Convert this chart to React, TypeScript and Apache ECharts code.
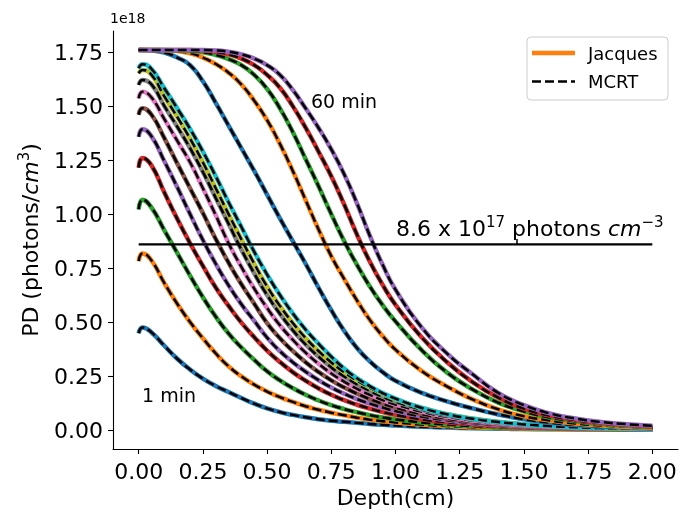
import React, { useEffect, useRef } from "react";
import * as echarts from "echarts";

// Depth grid (cm) shared by every curve
const DEPTH = [0, 0.015, 0.05, 0.1, 0.15, 0.2, 0.25, 0.3, 0.35, 0.4, 0.45, 0.5, 0.55, 0.6, 0.65, 0.7, 0.75, 0.8, 0.85, 0.9, 0.95, 1.0, 1.1, 1.2, 1.3, 1.4, 1.5, 1.6, 1.7, 1.8, 1.9, 2.0];

// Exposure times (min) of each curve
const MINUTES = [1, 2, 3, 4, 5, 6, 7, 8, 9, 10, 20, 30, 40, 50, 60];

// Photon density, in units of 1e18 photons/cm^3
const PD_01 = [0.448, 0.475, 0.452, 0.39, 0.33, 0.28, 0.238, 0.204, 0.176, 0.148, 0.122, 0.1, 0.083, 0.07, 0.059, 0.05, 0.043, 0.038, 0.033, 0.028, 0.024, 0.021, 0.015, 0.011, 0.008, 0.006, 0.0045, 0.0034, 0.0026, 0.002, 0.0015, 0.0012];
const PD_02 = [0.782, 0.818, 0.785, 0.68, 0.585, 0.5, 0.425, 0.355, 0.295, 0.248, 0.21, 0.178, 0.152, 0.13, 0.11, 0.094, 0.08, 0.068, 0.057, 0.048, 0.041, 0.035, 0.025, 0.018, 0.013, 0.009, 0.0065, 0.0047, 0.0034, 0.0025, 0.0018, 0.0013];
const PD_03 = [1.022, 1.067, 1.03, 0.925, 0.82, 0.715, 0.615, 0.525, 0.447, 0.382, 0.325, 0.272, 0.23, 0.194, 0.163, 0.137, 0.115, 0.097, 0.082, 0.069, 0.058, 0.049, 0.035, 0.025, 0.018, 0.013, 0.009, 0.0065, 0.0047, 0.0034, 0.0024, 0.0017];
const PD_04 = [1.215, 1.26, 1.225, 1.1, 0.978, 0.865, 0.76, 0.66, 0.575, 0.497, 0.43, 0.368, 0.315, 0.268, 0.228, 0.193, 0.163, 0.138, 0.117, 0.099, 0.083, 0.07, 0.05, 0.036, 0.026, 0.018, 0.013, 0.0095, 0.0068, 0.0049, 0.0035, 0.0025];
const PD_05 = [1.358, 1.393, 1.36, 1.245, 1.125, 1.0, 0.88, 0.77, 0.67, 0.582, 0.505, 0.428, 0.365, 0.314, 0.27, 0.231, 0.197, 0.168, 0.143, 0.122, 0.104, 0.088, 0.063, 0.045, 0.032, 0.023, 0.017, 0.012, 0.0086, 0.0062, 0.0045, 0.0032];
const PD_06 = [1.46, 1.49, 1.46, 1.352, 1.235, 1.12, 1.005, 0.885, 0.775, 0.675, 0.585, 0.495, 0.425, 0.366, 0.314, 0.269, 0.23, 0.197, 0.168, 0.143, 0.122, 0.104, 0.074, 0.053, 0.038, 0.027, 0.02, 0.014, 0.01, 0.0073, 0.0053, 0.0038];
const PD_07 = [1.536, 1.567, 1.54, 1.44, 1.34, 1.24, 1.12, 0.995, 0.865, 0.755, 0.655, 0.565, 0.485, 0.418, 0.358, 0.307, 0.262, 0.224, 0.191, 0.163, 0.139, 0.118, 0.085, 0.061, 0.044, 0.031, 0.022, 0.016, 0.0115, 0.0083, 0.006, 0.0043];
const PD_08 = [1.598, 1.621, 1.6, 1.5, 1.405, 1.305, 1.195, 1.075, 0.955, 0.835, 0.725, 0.625, 0.538, 0.462, 0.396, 0.34, 0.29, 0.248, 0.212, 0.181, 0.154, 0.131, 0.095, 0.068, 0.049, 0.035, 0.025, 0.018, 0.013, 0.0092, 0.0066, 0.0048];
const PD_09 = [1.652, 1.667, 1.645, 1.545, 1.45, 1.35, 1.24, 1.12, 1.0, 0.883, 0.77, 0.665, 0.575, 0.496, 0.426, 0.366, 0.313, 0.268, 0.229, 0.196, 0.167, 0.142, 0.103, 0.074, 0.053, 0.038, 0.027, 0.019, 0.014, 0.01, 0.0072, 0.0052];
const PD_10 = [1.675, 1.694, 1.672, 1.583, 1.49, 1.395, 1.29, 1.175, 1.055, 0.94, 0.825, 0.72, 0.625, 0.54, 0.465, 0.4, 0.34, 0.285, 0.24, 0.203, 0.171, 0.145, 0.103, 0.073, 0.052, 0.037, 0.026, 0.018, 0.013, 0.009, 0.0065, 0.0047];
const PD_20 = [1.76, 1.76, 1.758, 1.748, 1.725, 1.69, 1.615, 1.515, 1.41, 1.305, 1.2, 1.09, 0.98, 0.875, 0.77, 0.66, 0.555, 0.46, 0.38, 0.318, 0.268, 0.228, 0.173, 0.133, 0.1, 0.072, 0.05, 0.034, 0.023, 0.016, 0.011, 0.008];
const PD_30 = [1.76, 1.76, 1.76, 1.759, 1.755, 1.745, 1.725, 1.695, 1.655, 1.6, 1.525, 1.435, 1.325, 1.2, 1.065, 0.93, 0.805, 0.7, 0.6, 0.51, 0.435, 0.372, 0.275, 0.202, 0.142, 0.096, 0.064, 0.044, 0.03, 0.021, 0.015, 0.01];
const PD_40 = [1.76, 1.76, 1.76, 1.76, 1.758, 1.755, 1.75, 1.737, 1.718, 1.69, 1.645, 1.58, 1.49, 1.38, 1.255, 1.13, 1.0, 0.875, 0.765, 0.665, 0.578, 0.503, 0.372, 0.267, 0.188, 0.127, 0.086, 0.058, 0.04, 0.028, 0.02, 0.014];
const PD_50 = [1.76, 1.76, 1.76, 1.76, 1.76, 1.76, 1.758, 1.752, 1.74, 1.72, 1.69, 1.645, 1.585, 1.5, 1.4, 1.29, 1.175, 1.045, 0.905, 0.78, 0.672, 0.58, 0.432, 0.315, 0.222, 0.15, 0.099, 0.067, 0.046, 0.032, 0.023, 0.016];
const PD_60 = [1.76, 1.76, 1.76, 1.76, 1.76, 1.76, 1.76, 1.758, 1.752, 1.74, 1.72, 1.69, 1.645, 1.575, 1.49, 1.4, 1.3, 1.185, 1.05, 0.9, 0.765, 0.65, 0.478, 0.355, 0.258, 0.172, 0.115, 0.077, 0.053, 0.037, 0.027, 0.02];

const CURVES = [PD_01, PD_02, PD_03, PD_04, PD_05, PD_06, PD_07, PD_08, PD_09, PD_10, PD_20, PD_30, PD_40, PD_50, PD_60];

// Threshold level (1e18 units) and its depth extent
const THRESHOLD = 0.86;
const THRESHOLD_DEPTH = [0, 2.0];

const X_TICKS = [0, 0.25, 0.5, 0.75, 1.0, 1.25, 1.5, 1.75, 2.0];
const Y_TICKS = [0, 0.25, 0.5, 0.75, 1.0, 1.25, 1.5, 1.75];

const COLORS = ["#1f77b4", "#ff7f0e", "#2ca02c", "#d62728", "#9467bd", "#8c564b", "#e377c2", "#7f7f7f", "#bcbd22", "#17becf"];

const FONT = "DejaVu Sans";

export default function App() {
  const ref = useRef<HTMLDivElement>(null);

  useEffect(() => {
    const chart = echarts.init(ref.current!, null, { renderer: "svg" });
    const series: any[] = [];
    CURVES.forEach((vals, i) => {
      const data = DEPTH.map((d, j) => [d, vals[j]]);
      series.push({
        type: "line",
        name: `Jacques ${MINUTES[i]} min`,
        data,
        showSymbol: false,
        smooth: 0.5,
        silent: true,
        lineStyle: { color: COLORS[i % 10], width: 4.5 },
      });
      series.push({
        type: "line",
        name: `MCRT ${MINUTES[i]} min`,
        data,
        showSymbol: false,
        smooth: 0.5,
        silent: true,
        lineStyle: { color: "#000", width: 2.5, type: [9, 4] },
      });
    });
    series.push({
      type: "line",
      name: "threshold",
      data: THRESHOLD_DEPTH.map((d) => [d, THRESHOLD]),
      showSymbol: false,
      silent: true,
      lineStyle: { color: "#000", width: 2.2 },
    });

    const axisLine = { show: true, onZero: false, lineStyle: { color: "#000", width: 1.1 } };

    chart.setOption({
      animation: false,
      grid: { left: 113, right: 2, top: 31, bottom: 68, containLabel: false },
      xAxis: {
        type: "value",
        min: -0.1,
        max: 2.1,
        axisLine,
        splitLine: { show: false },
        axisTick: { show: true, length: 5, customValues: X_TICKS, lineStyle: { color: "#000", width: 1.1 } },
        axisLabel: {
          customValues: X_TICKS,
          formatter: (v: number) => v.toFixed(2),
          fontFamily: FONT,
          fontSize: 22,
          color: "#000",
          margin: 11,
        },
        name: "Depth(cm)",
        nameLocation: "middle",
        nameGap: 36,
        nameTextStyle: { fontFamily: FONT, fontSize: 22, color: "#000" },
      },
      yAxis: {
        type: "value",
        min: -0.088,
        max: 1.848,
        axisLine,
        splitLine: { show: false },
        axisTick: { show: true, length: 5, customValues: Y_TICKS, lineStyle: { color: "#000", width: 1.1 } },
        axisLabel: {
          customValues: Y_TICKS,
          formatter: (v: number) => v.toFixed(2),
          fontFamily: FONT,
          fontSize: 22,
          color: "#000",
          margin: 10,
        },
        name: "{a|PD (photons/}{i|cm}{s|3}{a|)}",
        nameLocation: "middle",
        nameGap: 69,
        nameTextStyle: {
          fontFamily: FONT,
          fontSize: 22,
          color: "#000",
          rich: {
            a: { fontFamily: FONT, fontSize: 22, color: "#000", lineHeight: 28 },
            i: { fontFamily: FONT, fontSize: 22, color: "#000", fontStyle: "italic", lineHeight: 28 },
            s: { fontFamily: FONT, fontSize: 15, color: "#000", verticalAlign: "top", lineHeight: 28 },
          },
        },
      },
      series,
      graphic: [
        {
          type: "text",
          left: 110,
          top: 11,
          style: { text: "1e18", fontFamily: FONT, fontSize: 14, fill: "#000" },
        },
        {
          type: "text",
          x: 311,
          y: 101,
          style: { text: "60 min", fontFamily: FONT, fontSize: 19, fill: "#000", verticalAlign: "middle" },
          z: 100,
        },
        {
          type: "text",
          x: 142,
          y: 395,
          style: { text: "1 min", fontFamily: FONT, fontSize: 19, fill: "#000", verticalAlign: "middle" },
          z: 100,
        },
        {
          type: "line",
          z: 100,
          shape: { x1: 517, y1: 239, x2: 517, y2: 244 },
          style: { stroke: "#000", lineWidth: 1.5 },
        },
        {
          type: "text",
          x: 396,
          y: 228,
          z: 100,
          style: {
            text: "{a|8.6 x 10}{s|17}{a| photons }{i|cm}{s|−3}",
            fontFamily: FONT,
            fontSize: 22,
            fill: "#000",
            verticalAlign: "middle",
            rich: {
              a: { fontFamily: FONT, fontSize: 22, fill: "#000", lineHeight: 28 },
              i: { fontFamily: FONT, fontSize: 22, fill: "#000", fontStyle: "italic", lineHeight: 28 },
              s: { fontFamily: FONT, fontSize: 15, fill: "#000", verticalAlign: "top", lineHeight: 28 },
            },
          },
        },
        {
          type: "group",
          z: 100,
          children: [
            {
              type: "rect",
              shape: { x: 527, y: 37, width: 141, height: 63, r: 4 },
              style: { fill: "rgba(255,255,255,0.8)", stroke: "#cccccc", lineWidth: 1 },
            },
            {
              type: "line",
              shape: { x1: 532, y1: 53, x2: 575, y2: 53 },
              style: { stroke: "#ff7f0e", lineWidth: 4.5 },
            },
            {
              type: "line",
              shape: { x1: 532, y1: 81.5, x2: 575, y2: 81.5 },
              style: { stroke: "#000", lineWidth: 2.5, lineDash: [9, 4] },
            },
            {
              type: "text",
              x: 588,
              y: 53,
              style: { text: "Jacques", fontFamily: FONT, fontSize: 18, fill: "#000", verticalAlign: "middle" },
            },
            {
              type: "text",
              x: 588,
              y: 81.5,
              style: { text: "MCRT", fontFamily: FONT, fontSize: 18, fill: "#000", verticalAlign: "middle" },
            },
          ],
        },
      ],
    });

    return () => chart.dispose();
  }, []);

  return <div ref={ref} style={{ position: "fixed", left: 0, top: 0, width: 680, height: 517 }} />;
}
